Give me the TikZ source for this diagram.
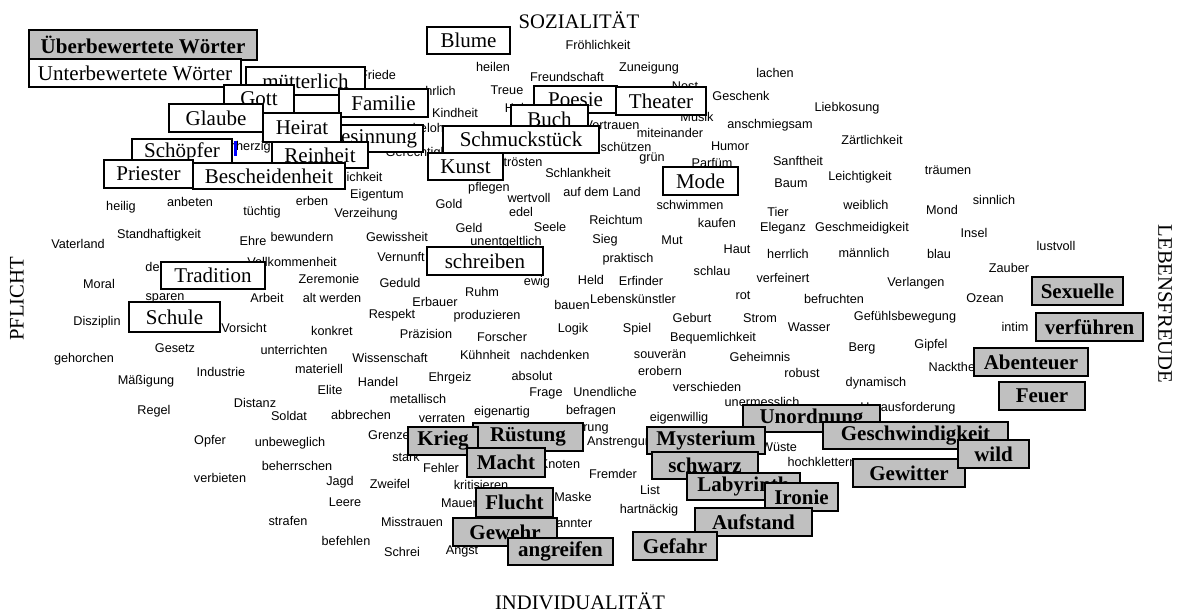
\documentclass[tikz,border=0pt]{standalone}
\usepackage{fontspec}
\setmainfont{Liberation Serif}
\newfontfamily\wordfont{Liberation Sans}
\definecolor{boxgray}{HTML}{C0C0C0}
\tikzset{
  word/.style={inner sep=0pt, font=\wordfont\fontsize{9.5}{11}\selectfont},
  axis/.style={inner sep=0pt, font=\fontsize{15.5}{18}\selectfont},
  lowbox/.style={draw, line width=1.6pt, fill=white, inner sep=0pt,
    font=\fontsize{15.75}{18}\selectfont},
  highbox/.style={lowbox, fill=boxgray, font=\bfseries\fontsize{15.75}{18}\selectfont},
  sz/.style 2 args={minimum width=#1*0.75pt, minimum height=#2*0.75pt}
}
\begin{document}
\begin{tikzpicture}[x=0.75pt, y=-0.75pt]
    % pixel grid of the original chart, y downwards
    \fill[white] (0,0) rectangle (1177,614);
    \useasboundingbox (0,0) rectangle (1177,614);

    % axes
    \node[axis] (soz) at (579,20) {SOZIALITÄT};
    \node[axis] (ind) at (580,601) {INDIVIDUALITÄT};
    \node[axis, rotate=90] (pfl) at (17,299) {PFLICHT};
    \node[axis, rotate=-90] (leb) at (1165,304) {LEBENSFREUDE};

    % the rated words
    \foreach \x/\y/\t [count=\i] in {
      598/45/Fröhlichkeit, 493/67/heilen, 649/68/Zuneigung, 567/77/Freundschaft,
      775/73/lachen, 685/86/Nest, 507/90/Treue, 437/91/ehrlich, 378/75/Friede,
      455/113/Kindheit, 525/108/Heimat, 439/128/belohnen, 423/153/Gerechtigkeit,
      239/147/barmherzig, 354/177/Sittlichkeit, 523/162/trösten, 578/173/Schlankheit,
      652/158/grün, 712/163/Parfüm, 798/161/Sanftheit, 791/183/Baum,
      860/177/Leichtigkeit, 948/170/träumen, 866/205/weiblich, 942/210/Mond,
      994/200/sinnlich, 778/212/Tier, 783/228/Eleganz, 862/228/Geschmeidigkeit,
      974/233/Insel, 1056/246/lustvoll, 737/249/Haut, 788/254/herrlich,
      864/253/männlich, 939/254/blau, 1009/268/Zauber, 712/271/schlau,
      783/278/verfeinert, 916/283/Verlangen, 834/299/befruchten, 985/298/Ozean,
      743/295/rot, 672/240/Mut, 717/223/kaufen, 690/205/schwimmen,
      616/220/Reichtum, 605/240/Sieg, 628/259/praktisch, 602/192/{auf dem Land},
      489/188/pflegen, 529/198/wertvoll, 521/212/edel, 449/204/Gold, 469/228/Geld,
      550/227/Seele, 506/242/unentgeltlich, 537/282/ewig, 591/280/Held,
      641/281/Erfinder, 482/292/Ruhm, 435/302/Erbauer, 572/305/bauen,
      633/299/Lebenskünstler, 400/283/Geduld, 401/257/Vernunft, 397/237/Gewissheit,
      121/207/heilig, 190/202/anbeten, 262/212/tüchtig, 312/201/erben,
      377/195/Eigentum, 366/214/Verzeihung, 78/244/Vaterland, 159/235/Standhaftigkeit,
      253/241/Ehre, 302/237/bewundern, 168/268/demütig, 292/262/Vollkommenheit,
      99/284/Moral, 329/279/Zeremonie, 165/298/sparen, 267/298/Arbeit,
      332/298/{alt werden}, 392/315/Respekt, 97/322/Disziplin, 244/328/Vorsicht,
      332/331/konkret, 175/348/Gesetz, 294/350/unterrichten, 84/359/gehorchen,
      390/358/Wissenschaft, 319/369/materiell, 221/372/Industrie, 146/381/Mäßigung,
      378/382/Handel, 330/390/Elite, 418/399/metallisch, 255/403/Distanz,
      154/411/Regel, 289/416/Soldat, 361/415/abbrechen, 210/441/Opfer,
      290/443/unbeweglich, 389/435/Grenze, 406/457/stark,
      487/316/produzieren, 426/334/Präzision, 502/337/Forscher, 573/329/Logik,
      637/329/Spiel, 692/318/Geburt, 760/318/Strom, 713/338/Bequemlichkeit,
      485/355/Kühnheit, 555/355/nachdenken, 660/354/souverän, 760/357/Geheimnis,
      450/378/Ehrgeiz, 532/376/absolut, 660/371/erobern, 802/373/robust,
      546/393/Frage, 605/392/Unendliche, 707/387/verschieden, 442/418/verraten,
      502/412/eigenartig, 591/411/befragen, 679/418/eigenwillig, 762/402/unermesslich,
      578/428/Zerstörung, 623/442/Anstrengung, 779/447/Wüste,
      905/317/Gefühlsbewegung, 809/327/Wasser, 1015/327/intim, 862/348/Berg,
      931/345/Gipfel, 955/367/Nacktheit, 876/383/dynamisch, 908/408/Herausforderung,
      822/462/hochklettern, 613/474/Fremder, 650/490/List, 649/510/hartnäckig,
      560/464/Knoten, 441/468/Fehler, 481/485/kritisieren, 573/497/Maske,
      459/503/Mauer, 412/522/Misstrauen, 556/523/Unbekannter, 462/551/Angst,
      402/552/Schrei, 297/466/beherrschen, 220/478/verbieten, 340/482/Jagd,
      390/484/Zweifel, 345/502/Leere, 288/521/strafen, 346/541/befehlen,
      741/96/Geschenk, 697/117/Musik, 612/125/Vertrauen, 670/133/miteinander,
      770/125/anschmiegsam, 847/108/Liebkosung, 872/140/Zärtlichkeit,
      730/146/Humor, 619/147/beschützen}
      \node[word] (w\i) at (\x,\y) {\t};
    \fill[blue] (234,141) rectangle (236.5,156);

    % legend
    \node[highbox, sz={228}{30}] (over) at (143,45) {Überbewertete Wörter};
    \node[lowbox, sz={212}{28}] (under) at (135,73) {Unterbewertete Wörter};

    % underrated words
    \node[lowbox, sz={83}{27}] (blume) at (468.5,40.5) {Blume};
    \node[lowbox, sz={119}{28}] (muett) at (305.5,81) {mütterlich};
    \node[lowbox, sz={70}{28}] (gott) at (259,99) {Gott};
    \node[lowbox, sz={89}{28}] (fam) at (383.5,103) {Familie};
    \node[lowbox, sz={94}{28}] (glaube) at (216,118) {Glaube};
    \node[lowbox, sz={103}{27}] (gesinn) at (371.5,138.5) {Gesinnung};
    \node[lowbox, sz={78}{29}] (heirat) at (302,127.5) {Heirat};
    \node[lowbox, sz={100}{26}] (schoepf) at (182,152) {Schöpfer};
    \node[lowbox, sz={96}{26}] (rein) at (320,155) {Reinheit};
    \node[lowbox, sz={89}{28}] (priest) at (148.5,174) {Priester};
    \node[lowbox, sz={152}{26}] (besch) at (269,176) {Bescheidenheit};
    \node[lowbox, sz={83}{27}] (poesie) at (575.5,99.5) {Poesie};
    \node[lowbox, sz={90}{28}] (theat) at (661,101) {Theater};
    \node[lowbox, sz={77}{28}] (buch) at (549.5,119) {Buch};
    \node[lowbox, sz={156}{27}] (schmuck) at (521,139.5) {Schmuckstück};
    \node[lowbox, sz={75}{27}] (kunst) at (465.5,166.5) {Kunst};
    \node[lowbox, sz={75}{28}] (mode) at (700.5,181) {Mode};
    \node[lowbox, sz={116}{28}] (schreib) at (485,261) {schreiben};
    \node[lowbox, sz={104}{27}] (trad) at (213,275.5) {Tradition};
    \node[lowbox, sz={91}{30}] (schule) at (174.5,317) {Schule};

    % overrated words
    \node[highbox, sz={91}{28}] (sex) at (1077.5,291) {Sexuelle};
    \node[highbox, sz={107}{28}] (verf) at (1089.5,327) {verführen};
    \node[highbox, sz={114}{28}] (abent) at (1031,362) {Abenteuer};
    \node[highbox, sz={86}{28}] (feuer) at (1042,396) {Feuer};
    \node[highbox, sz={137}{27}] (unord) at (811.5,418.5) {Unordnung};
    \node[highbox, sz={185}{27}] (geschw) at (915.5,435.5) {Geschwindigkeit};
    \node[highbox, sz={112}{28}] (gewit) at (909,473) {Gewitter};
    \node[highbox, sz={71}{28}] (wild) at (993.5,454) {wild};
    \node[highbox, sz={110}{28}] (ruest) at (528,437) {Rüstung};
    \node[highbox, sz={70}{28}] (krieg) at (443,441) {Krieg};
    \node[highbox, sz={78}{29}] (macht) at (506,462.5) {Macht};
    \node[highbox, sz={77}{29}] (flucht) at (514.5,502.5) {Flucht};
    \node[highbox, sz={104}{28}] (gewehr) at (505,532) {Gewehr};
    \node[highbox, sz={105}{27}] (angr) at (560.5,551.5) {angreifen};
    \node[highbox, sz={118}{27}] (myst) at (706,440.5) {Mysterium};
    \node[highbox, sz={106}{27}] (schw) at (705,465.5) {schwarz};
    \node[highbox, sz={113}{27}] (laby) at (743.5,486.5) {Labyrinth};
    \node[highbox, sz={73}{28}] (iron) at (801.5,497) {Ironie};
    \node[highbox, sz={117}{28}] (aufst) at (753.5,522) {Aufstand};
    \node[highbox, sz={84}{28}] (gefahr) at (675,546) {Gefahr};
\end{tikzpicture}
\end{document}
